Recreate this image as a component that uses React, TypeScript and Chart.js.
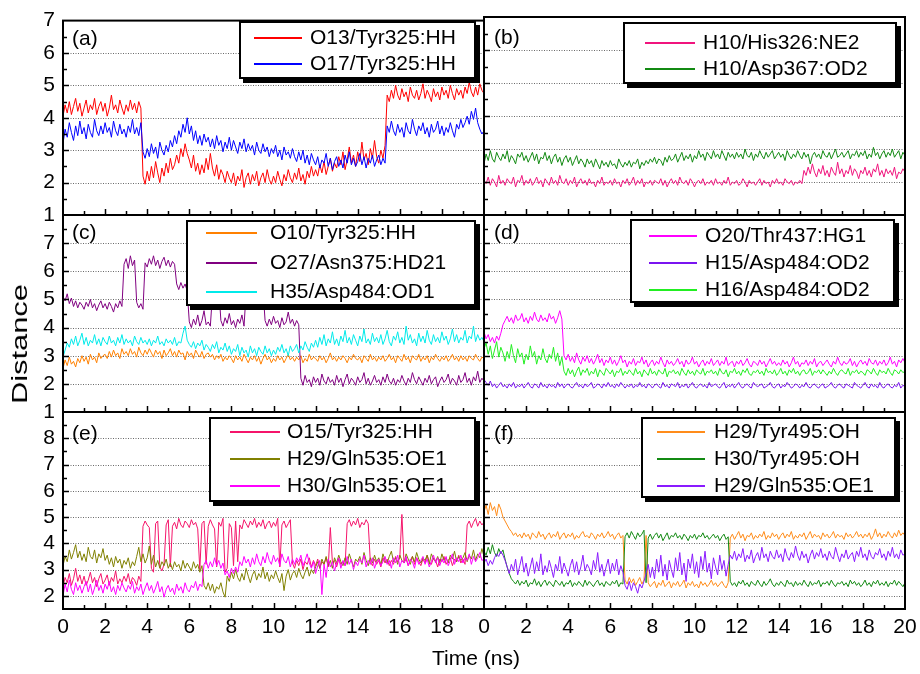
import React, { useEffect, useRef } from "react";
import { Chart, registerables } from "chart.js";

Chart.register(...registerables);

const W = 920;
const H = 674;
const FONT = '"Liberation Sans", Arial, Helvetica, sans-serif';

// time axis: one sample every 0.1 ns from 0 to 20 ns (each row below = 1 ns)
const TIME_STEP_NS = 0.1;
const X_TICKS = [0, 2, 4, 6, 8, 10, 12, 14, 16, 18, 20];

// ---------- (a) ----------
const O13_TYR325_HH = [
  4.05, 4.40, 4.15, 4.50, 4.10, 4.35, 4.60, 4.20, 4.45, 4.05,
  4.30, 4.55, 4.15, 4.40, 4.25, 4.60, 4.10, 4.35, 4.50, 4.20,
  4.45, 4.05, 4.30, 4.70, 4.25, 4.40, 4.15, 4.55, 4.30, 4.10,
  4.40, 4.20, 4.55, 4.25, 4.45, 4.15, 4.50, 4.30, 2.20, 1.95,
  2.35, 2.05, 2.50, 2.15, 2.65, 2.30, 2.00, 2.45, 2.20, 2.60,
  2.30, 2.75, 2.40, 2.55, 2.85, 2.60, 3.05, 2.80, 3.20, 2.90,
  2.70, 2.45, 2.85, 2.35, 2.60, 2.25, 2.55, 2.30, 2.75, 2.40,
  2.90, 2.45, 2.20, 2.55, 2.10, 2.40, 2.25, 2.00, 2.35, 2.15,
  2.00, 2.30, 1.90, 2.20, 2.05, 2.40, 1.85, 2.15, 2.30, 1.95,
  2.25, 2.05, 2.35, 1.90, 2.15, 2.30, 2.00, 2.40, 2.10, 1.95,
  2.20, 2.00, 2.35, 2.10, 1.90, 2.25, 2.05, 2.40, 2.15, 2.00,
  2.30, 2.10, 2.45, 2.05, 2.25, 1.95, 2.35, 2.15, 2.50, 2.20,
  2.40, 2.20, 2.55, 2.30, 2.65, 2.25, 2.50, 2.75, 2.35, 2.60,
  2.45, 2.80, 2.55, 2.95, 2.40, 2.70, 3.10, 2.60, 2.85, 2.50,
  2.95, 2.65, 3.25, 2.70, 2.90, 2.55, 3.05, 2.75, 3.30, 2.80,
  2.60, 3.00, 2.75, 3.15, 4.70, 4.50, 4.85, 4.60, 5.00, 4.70,
  4.55, 4.90, 4.65, 4.80, 4.50, 4.95, 4.70, 4.60, 4.85, 4.55,
  4.75, 5.05, 4.60, 4.85, 4.70, 4.50, 4.90, 4.65, 4.80, 4.55,
  4.95, 4.70, 4.85, 4.60, 5.00, 4.75, 4.55, 4.90, 4.70, 4.85,
  4.60, 4.95, 4.75, 5.10, 4.80, 4.65, 4.95, 4.70, 5.05, 4.85,
  4.75,
];
const O17_TYR325_HH = [
  3.20, 3.65, 3.40, 3.85, 3.55, 3.30, 3.75, 3.45, 3.90, 3.50,
  3.70, 3.35, 3.80, 3.55, 3.40, 3.95, 3.60, 3.45, 3.75, 3.50,
  3.85, 3.55, 3.70, 3.40, 3.90, 3.60, 3.45, 3.80, 3.50, 3.65,
  3.40, 3.75, 3.55, 3.95, 3.50, 3.70, 3.45, 3.85, 2.95, 2.75,
  3.05, 2.80, 3.20, 2.90, 3.10, 2.75, 3.25, 3.00, 2.85, 3.15,
  2.95, 3.30, 3.10, 3.45, 3.20, 3.60, 3.40, 3.80, 3.55, 4.00,
  3.50, 3.75, 3.30, 3.60, 3.20, 3.45, 3.15, 3.50, 3.25, 3.40,
  3.10, 3.35, 3.05, 3.45, 3.15, 3.30, 2.95, 3.25, 3.05, 3.40,
  3.00, 3.30, 3.10, 2.90, 3.25, 3.05, 3.35, 2.95, 3.20, 3.00,
  3.15, 2.85, 3.25, 3.00, 2.90, 3.20, 2.95, 3.10, 2.80, 3.05,
  2.90, 3.15, 2.80, 3.00, 2.70, 3.10, 2.85, 2.95, 2.75, 3.05,
  2.80, 2.65, 2.95, 2.70, 3.00, 2.60, 2.85, 2.55, 2.90, 2.70,
  2.55, 2.80, 2.45, 2.70, 2.60, 2.90, 2.50, 2.75, 2.40, 2.65,
  2.80, 2.50, 2.70, 2.45, 2.85, 2.60, 2.95, 2.55, 2.75, 2.50,
  2.65, 2.90, 2.55, 2.80, 2.45, 2.75, 2.60, 2.85, 2.50, 2.70,
  2.85, 2.55, 2.75, 2.60, 3.75, 3.55, 3.90, 3.60, 3.45, 3.80,
  3.55, 3.70, 3.40, 3.85, 3.60, 3.50, 3.95, 3.65, 3.45, 3.75,
  3.60, 3.85, 3.50, 3.70, 3.40, 3.80, 3.55, 3.65, 3.90, 3.50,
  3.75, 3.45, 3.70, 3.55, 3.85, 3.60, 3.40, 3.80, 3.65, 3.95,
  3.70, 3.85, 4.05, 3.80, 4.20, 3.95, 4.30, 3.85, 3.65, 3.50,
  3.60,
];

// ---------- (b) ----------
const H10_HIS326_NE2 = [
  2.05, 1.95, 2.15, 1.90, 2.10, 2.00, 1.85, 2.20, 1.95, 2.05,
  1.90, 2.10, 2.00, 1.95, 2.15, 1.85, 2.05, 2.00, 2.20, 1.90,
  2.05, 1.95, 2.10, 1.90, 2.00, 2.15, 1.95, 2.05, 1.85, 2.10,
  2.00, 1.90, 2.15, 1.95, 2.05, 1.90, 2.20, 2.00, 1.95, 2.10,
  1.90, 2.05, 1.95, 2.15, 1.85, 2.00, 2.10, 1.95, 2.05, 1.90,
  2.10, 1.95, 2.00, 1.85, 2.05, 1.95, 2.15, 1.90, 2.00, 1.95,
  2.05, 1.90, 2.10, 1.95, 2.00, 1.85, 2.05, 1.95, 2.10, 1.90,
  2.00, 2.15, 1.90, 2.05, 1.95, 2.10, 1.85, 2.00, 1.95, 2.05,
  1.90, 2.05, 2.00, 1.95, 2.10, 1.90, 2.05, 1.85, 2.00, 2.10,
  1.95, 2.05, 1.90, 2.15, 2.00, 1.95, 2.05, 1.90, 2.10, 2.00,
  1.85, 2.00, 2.05, 1.95, 2.10, 1.90, 2.00, 1.95, 2.05, 1.90,
  2.10, 1.95, 2.00, 1.90, 2.05, 1.95, 2.15, 1.90, 2.00, 1.95,
  2.05, 1.90, 1.95, 2.10, 2.00, 1.85, 2.05, 1.95, 2.00, 1.90,
  2.00, 2.10, 1.90, 2.05, 1.95, 2.00, 1.85, 2.05, 1.95, 2.10,
  1.95, 2.00, 1.90, 2.10, 2.00, 1.95, 2.05, 1.90, 2.00, 1.95,
  2.05, 1.95, 2.35, 2.20, 2.45, 2.25, 2.55, 2.30, 2.15, 2.40,
  2.25, 2.50, 2.20, 2.35, 2.15, 2.45, 2.30, 2.20, 2.60, 2.25,
  2.40, 2.15, 2.35, 2.25, 2.50, 2.20, 2.40, 2.30, 2.10, 2.35,
  2.25, 2.45, 2.20, 2.35, 2.15, 2.40, 2.30, 2.55, 2.20, 2.35,
  2.15, 2.40, 2.25, 2.35, 2.20, 2.45, 2.10, 2.30, 2.25, 2.40,
  2.30,
];
const H10_ASP367_OD2 = [
  2.55, 2.85, 2.65, 2.95, 2.70, 2.60, 2.90, 2.75, 2.65, 2.85,
  2.70, 2.95, 2.60, 2.80, 2.70, 2.55, 2.85, 2.75, 2.90, 2.65,
  2.80, 2.60, 2.75, 2.90, 2.65, 2.85, 2.55, 2.75, 2.70, 2.90,
  2.65, 2.80, 2.55, 2.75, 2.85, 2.60, 2.75, 2.50, 2.70, 2.80,
  2.60, 2.75, 2.50, 2.65, 2.80, 2.55, 2.70, 2.60, 2.45, 2.70,
  2.55, 2.65, 2.45, 2.70, 2.55, 2.40, 2.65, 2.50, 2.60, 2.45,
  2.65, 2.50, 2.55, 2.40, 2.70, 2.55, 2.45, 2.60, 2.50, 2.65,
  2.45, 2.60, 2.55, 2.70, 2.40, 2.60, 2.50, 2.65, 2.55, 2.70,
  2.60, 2.75, 2.55, 2.70, 2.65, 2.50, 2.75, 2.60, 2.80, 2.65,
  2.70, 2.85, 2.60, 2.75, 2.90, 2.65, 2.80, 2.70, 2.85, 2.60,
  2.80, 2.70, 2.95, 2.75, 2.85, 2.65, 2.90, 2.80, 2.70, 2.95,
  2.75, 2.85, 2.70, 2.95, 2.80, 2.65, 2.90, 2.75, 2.85, 2.70,
  2.90, 2.75, 2.85, 2.70, 3.00, 2.80, 2.75, 2.90, 2.65, 2.85,
  2.75, 2.95, 2.80, 2.70, 2.90, 2.75, 2.85, 2.95, 2.70, 2.80,
  2.90, 2.75, 2.85, 2.65, 2.95, 2.80, 2.70, 2.85, 2.75, 2.95,
  2.80, 2.70, 2.90, 2.75, 2.85, 2.55, 2.80, 2.90, 2.75, 2.85,
  2.70, 2.95, 2.80, 2.75, 2.90, 2.70, 2.85, 3.00, 2.75, 2.80,
  2.90, 2.75, 2.85, 2.95, 2.70, 2.85, 2.80, 2.95, 2.75, 2.90,
  2.80, 2.95, 2.70, 2.85, 2.75, 3.05, 2.80, 2.90, 2.70, 2.85,
  2.95, 2.75, 2.90, 2.80, 3.00, 2.75, 2.85, 2.95, 2.70, 2.90,
  2.80,
];

// ---------- (c) ----------
const O10_TYR325_HH = [
  2.55, 2.85, 2.65, 2.95, 2.70, 2.80, 2.60, 2.90, 2.75, 3.00,
  2.80, 2.95, 2.70, 3.05, 2.85, 2.95, 2.75, 3.10, 2.90, 3.00,
  3.05, 2.90, 3.15, 2.95, 3.20, 3.00, 3.10, 2.90, 3.25, 3.05,
  3.15, 3.00, 3.25, 3.05, 3.15, 2.95, 3.30, 3.10, 3.00, 3.20,
  3.05, 3.25, 3.10, 2.95, 3.20, 3.05, 3.15, 2.90, 3.20, 3.00,
  3.10, 3.25, 3.00, 3.15, 2.95, 3.20, 3.05, 3.10, 2.85, 3.15,
  3.00, 3.10, 2.90, 3.20, 3.05, 2.95, 3.15, 2.90, 3.05, 3.10,
  2.95, 3.05, 2.85, 3.00, 2.90, 3.05, 2.80, 2.95, 2.85, 3.00,
  2.90, 2.75, 3.00, 2.85, 2.95, 2.80, 3.05, 2.90, 2.75, 2.95,
  2.85, 3.00, 2.80, 2.95, 2.70, 2.90, 3.05, 2.85, 2.95, 2.75,
  2.90, 2.80, 3.00, 2.85, 2.95, 2.75, 2.90, 3.05, 2.85, 2.95,
  2.80, 2.95, 2.85, 3.00, 2.75, 2.90, 2.80, 3.05, 2.85, 2.95,
  2.90, 2.80, 3.00, 2.85, 2.95, 2.75, 2.90, 3.10, 2.85, 2.95,
  2.80, 2.95, 2.85, 3.00, 2.90, 2.75, 2.95, 2.85, 3.05, 2.90,
  2.85, 2.95, 2.75, 3.00, 2.90, 2.80, 3.05, 2.85, 2.95, 2.80,
  2.95, 2.85, 3.00, 2.80, 2.90, 3.05, 2.85, 2.95, 2.75, 3.00,
  2.90, 2.80, 3.05, 2.85, 2.95, 2.75, 3.00, 2.90, 2.85, 3.05,
  2.80, 2.95, 2.85, 3.00, 2.75, 2.95, 2.85, 3.05, 2.90, 2.80,
  2.95, 2.85, 3.00, 2.80, 2.90, 3.05, 2.85, 2.95, 2.80, 3.00,
  2.85, 2.95, 2.80, 3.00, 2.90, 2.85, 3.05, 2.90, 2.80, 2.95,
  2.90,
];
const O27_ASN375_HD21 = [
  5.10, 4.95, 5.20, 4.85, 5.05, 4.75, 4.95, 4.70, 4.90, 4.80,
  4.65, 4.90, 4.75, 5.00, 4.70, 4.85, 4.60, 4.80, 4.95, 4.70,
  4.85, 4.65, 4.90, 4.75, 4.55, 4.85, 4.70, 4.95, 4.75, 6.25,
  6.45, 6.10, 6.55, 6.20, 6.40, 4.90, 4.70, 4.85, 4.65, 6.30,
  6.15, 6.45, 6.25, 6.55, 6.20, 6.40, 6.10, 6.35, 6.50, 6.20,
  6.40, 6.15, 6.35, 6.25, 5.55, 5.35, 5.60, 5.40, 5.55, 5.30,
  4.20, 4.00, 4.30, 4.10, 4.45, 4.05, 4.25, 4.60, 4.10, 4.20,
  4.05, 5.20, 5.35, 5.10, 5.40, 4.25, 4.05, 4.35, 4.15, 4.50,
  4.10, 4.25, 4.00, 4.30, 4.15, 4.45, 4.05, 5.25, 5.40, 5.15,
  5.35, 5.20, 5.45, 5.30, 5.10, 5.35, 4.25, 4.05, 4.30, 4.10,
  4.40, 4.15, 4.25, 4.00, 4.35, 4.10, 4.20, 4.55, 4.15, 4.30,
  4.05, 4.25, 4.10, 2.20, 1.95, 2.30, 2.05, 2.15, 1.90, 2.25,
  2.05, 2.20, 1.95, 2.35, 2.10, 2.00, 2.25, 2.05, 2.15, 1.95,
  2.30, 2.05, 2.20, 1.90, 2.15, 2.35, 2.00, 2.20, 2.10, 1.95,
  2.25, 2.05, 2.15, 2.40, 2.00, 2.20, 1.95, 2.10, 2.30, 2.05,
  2.15, 1.95, 2.25, 2.05, 2.35, 2.10, 2.00, 2.20, 1.95, 2.15,
  2.05, 2.30, 2.10, 1.95, 2.20, 2.05, 2.40, 2.15, 2.00, 2.25,
  2.10, 1.95, 2.20, 2.05, 2.30, 2.00, 2.15, 2.25, 1.90, 2.10,
  2.25, 2.05, 2.15, 2.35, 2.00, 2.20, 2.10, 1.95, 2.30, 2.05,
  2.15, 2.40, 2.05, 2.20, 1.95, 2.25, 2.10, 2.45, 2.05, 2.20,
  2.10,
];
const H35_ASP484_OD1 = [
  2.95, 3.20, 3.45, 3.30, 3.60, 3.40, 3.70, 3.35, 3.55, 3.80,
  3.40, 3.65, 3.35, 3.55, 3.45, 3.75, 3.40, 3.60, 3.35, 3.65,
  3.50, 3.40, 3.70, 3.45, 3.55, 3.35, 3.65, 3.45, 3.75, 3.40,
  3.60, 3.45, 3.55, 3.35, 3.70, 3.50, 3.40, 3.65, 3.45, 3.55,
  3.40, 3.60, 3.35, 3.55, 3.45, 3.70, 3.40, 3.50, 3.35, 3.60,
  3.45, 3.55, 3.40, 3.65, 3.35, 3.50, 3.45, 3.80, 4.05, 3.55,
  3.40, 3.30, 3.50, 3.25, 3.45, 3.35, 3.55, 3.20, 3.40, 3.30,
  3.15, 3.40, 3.25, 3.50, 3.10, 3.30, 3.20, 3.45, 3.15, 3.35,
  3.05, 3.25, 3.15, 3.40, 3.00, 3.30, 3.10, 3.20, 2.95, 3.35,
  3.10, 3.25, 3.00, 3.30, 3.15, 3.05, 3.35, 3.10, 3.25, 3.00,
  3.20, 3.05, 3.30, 3.15, 3.40, 3.10, 3.25, 3.00, 3.35, 3.15,
  3.25, 3.40, 3.10, 3.35, 3.20, 3.50, 3.30, 3.15, 3.45, 3.30,
  3.55, 3.30, 3.65, 3.40, 3.75, 3.35, 3.60, 3.45, 3.85, 3.40,
  3.60, 3.35, 3.70, 3.50, 3.90, 3.45, 3.65, 3.40, 3.75, 3.55,
  3.35, 3.70, 3.50, 3.95, 3.45, 3.60, 3.40, 3.80, 3.50, 3.65,
  3.45, 3.75, 3.40, 3.60, 3.90, 3.50, 3.35, 3.70, 3.55, 3.85,
  3.45, 3.65, 3.40, 4.05, 3.55, 3.75, 3.45, 3.60, 3.35, 3.80,
  3.50, 3.70, 3.45, 3.90, 3.55, 3.40, 3.75, 3.50, 3.65, 3.45,
  3.85, 3.55, 3.70, 3.40, 3.60, 3.95, 3.50, 3.75, 3.45, 3.65,
  3.55, 3.90, 3.45, 3.70, 3.60, 4.05, 3.50, 3.75, 3.55, 3.65,
  3.50,
];

// ---------- (d) ----------
const O20_THR437_HG1 = [
  3.85, 3.60, 3.75, 3.50, 3.65, 3.45, 3.70, 3.55, 3.80, 4.10,
  4.25, 4.40, 4.20, 4.35, 4.15, 4.45, 4.25, 4.30, 4.50, 4.20,
  4.35, 4.15, 4.40, 4.25, 4.55, 4.30, 4.20, 4.45, 4.25, 4.35,
  4.20, 4.50, 4.30, 4.40, 4.15, 4.35, 4.60, 4.30, 3.00, 2.85,
  3.05, 2.80, 2.95, 2.75, 3.10, 2.85, 2.70, 2.95, 2.80, 3.00,
  2.75, 2.90, 2.70, 2.85, 3.05, 2.75, 2.90, 2.65, 2.85, 2.75,
  2.95, 2.70, 2.85, 2.65, 2.80, 3.00, 2.75, 2.85, 2.60, 2.80,
  2.70, 2.90, 2.65, 2.80, 2.75, 2.95, 2.70, 2.85, 2.60, 2.75,
  2.85, 2.65, 2.80, 2.70, 2.95, 2.75, 2.60, 2.85, 2.70, 2.80,
  2.65, 2.75, 2.90, 2.70, 2.80, 2.60, 2.85, 2.70, 2.75, 2.95,
  2.70, 2.80, 2.60, 2.75, 2.85, 2.65, 2.80, 2.70, 2.90, 2.65,
  2.75, 2.85, 2.65, 2.80, 2.70, 2.95, 2.65, 2.75, 2.80, 2.60,
  2.80, 2.70, 2.85, 2.65, 2.75, 2.90, 2.70, 2.60, 2.80, 2.75,
  2.65, 2.85, 2.70, 2.80, 2.60, 2.75, 2.90, 2.70, 2.80, 2.65,
  2.75, 2.65, 2.85, 2.70, 2.80, 2.60, 2.75, 2.95, 2.70, 2.80,
  2.60, 2.75, 2.70, 2.85, 2.65, 2.80, 2.70, 2.90, 2.60, 2.75,
  2.80, 2.65, 2.75, 2.85, 2.70, 2.60, 2.80, 2.70, 2.95, 2.75,
  2.65, 2.80, 2.70, 2.75, 2.90, 2.65, 2.80, 2.60, 2.75, 2.85,
  2.70, 2.80, 2.65, 2.90, 2.75, 2.70, 2.85, 2.65, 2.80, 2.70,
  2.85, 2.65, 2.75, 2.95, 2.70, 2.80, 2.60, 2.85, 2.75, 2.90,
  2.75,
];
const H15_ASP484_OD2 = [
  2.15, 2.05, 1.95, 2.10, 1.90, 2.00, 1.85, 1.95, 2.05, 1.90,
  1.95, 1.85, 2.00, 1.90, 2.05, 1.85, 1.95, 1.90, 2.00, 1.85,
  1.95, 2.05, 1.90, 1.85, 2.00, 1.95, 1.85, 2.05, 1.90, 1.95,
  1.85, 2.00, 1.90, 1.95, 1.85, 2.05, 1.90, 2.00, 1.85, 1.95,
  2.00, 1.90, 1.85, 1.95, 2.05, 1.90, 1.95, 1.85, 2.00, 1.90,
  1.95, 2.05, 1.85, 1.90, 2.00, 1.95, 1.85, 2.00, 1.90, 2.05,
  1.90, 1.95, 1.85, 2.00, 1.90, 2.05, 1.95, 1.85, 1.95, 1.90,
  2.00, 1.85, 1.95, 1.90, 2.05, 1.90, 1.95, 1.85, 2.00, 1.95,
  1.85, 1.95, 2.00, 1.90, 1.85, 2.05, 1.90, 1.95, 1.85, 2.00,
  1.95, 1.90, 2.05, 1.85, 1.95, 1.90, 2.00, 1.85, 1.95, 2.05,
  1.90, 1.85, 1.95, 2.00, 1.90, 1.95, 1.85, 2.05, 1.90, 1.95,
  2.00, 1.90, 1.85, 1.95, 2.05, 1.85, 1.95, 1.90, 2.00, 1.85,
  1.95, 2.05, 1.90, 1.85, 1.95, 2.00, 1.90, 1.85, 2.05, 1.95,
  1.90, 1.95, 2.00, 1.85, 1.90, 1.95, 2.05, 1.90, 1.85, 1.95,
  2.00, 1.85, 1.95, 1.90, 2.05, 1.95, 1.85, 1.90, 2.00, 1.95,
  1.85, 1.95, 1.90, 2.05, 1.90, 1.85, 1.95, 2.00, 1.90, 1.85,
  1.95, 2.00, 1.85, 1.90, 1.95, 2.05, 1.90, 1.85, 1.95, 2.00,
  1.90, 1.85, 2.00, 1.95, 1.90, 1.85, 2.05, 1.95, 1.90, 1.85,
  1.95, 2.05, 1.90, 1.85, 2.00, 1.90, 1.95, 1.85, 2.05, 1.90,
  1.85, 1.95, 2.00, 1.90, 1.85, 1.95, 1.90, 2.05, 1.85, 1.95,
  1.90,
];
const H16_ASP484_OD2 = [
  3.25, 3.45, 3.05, 3.35, 2.90, 3.20, 3.50, 2.95, 3.30, 3.10,
  2.80, 3.15, 2.90, 3.40, 3.00, 2.75, 3.25, 2.95, 3.10, 2.70,
  3.05, 2.85, 3.35, 2.95, 3.15, 2.70, 3.00, 2.85, 3.25, 2.90,
  2.75, 3.05, 2.90, 3.30, 2.80, 3.10, 2.65, 2.95, 2.45, 2.30,
  2.55, 2.35, 2.50, 2.25, 2.45, 2.60, 2.30, 2.50, 2.40, 2.55,
  2.30, 2.45, 2.35, 2.55, 2.25, 2.50, 2.40, 2.30, 2.55, 2.45,
  2.35, 2.50, 2.25, 2.45, 2.40, 2.55, 2.30, 2.45, 2.35, 2.50,
  2.40, 2.30, 2.55, 2.35, 2.45, 2.25, 2.50, 2.40, 2.30, 2.55,
  2.35, 2.45, 2.30, 2.50, 2.40, 2.35, 2.55, 2.25, 2.45, 2.40,
  2.50, 2.35, 2.45, 2.30, 2.55, 2.40, 2.30, 2.50, 2.35, 2.45,
  2.30, 2.50, 2.40, 2.35, 2.55, 2.30, 2.45, 2.40, 2.50, 2.35,
  2.45, 2.30, 2.55, 2.40, 2.35, 2.50, 2.25, 2.45, 2.40, 2.55,
  2.35, 2.45, 2.30, 2.50, 2.40, 2.55, 2.35, 2.30, 2.45, 2.40,
  2.50, 2.35, 2.45, 2.30, 2.55, 2.40, 2.45, 2.35, 2.50, 2.30,
  2.40, 2.55, 2.35, 2.45, 2.30, 2.50, 2.40, 2.55, 2.35, 2.45,
  2.30, 2.45, 2.50, 2.35, 2.40, 2.55, 2.30, 2.45, 2.40, 2.50,
  2.35, 2.50, 2.40, 2.30, 2.45, 2.35, 2.55, 2.40, 2.30, 2.45,
  2.50, 2.40, 2.35, 2.55, 2.30, 2.45, 2.40, 2.50, 2.35, 2.45,
  2.40, 2.30, 2.50, 2.45, 2.35, 2.55, 2.40, 2.30, 2.50, 2.40,
  2.45, 2.35, 2.55, 2.40, 2.30, 2.50, 2.45, 2.35, 2.50, 2.40,
  2.45,
];

// ---------- (e) ----------
const O15_TYR325_HH = [
  2.35, 2.70, 2.50, 2.85, 2.40, 2.65, 3.05, 2.55, 2.80, 2.45,
  2.75, 2.40, 2.60, 2.90, 2.50, 2.70, 2.35, 2.65, 2.85, 2.45,
  2.60, 2.80, 2.40, 2.70, 2.55, 2.95, 2.45, 2.65, 2.50, 2.75,
  2.55, 2.85, 2.45, 2.70, 2.60, 2.40, 2.75, 2.55, 4.65, 4.85,
  4.70, 4.60, 3.05, 2.90, 4.75, 4.85, 3.10, 2.95, 3.20, 4.70,
  4.90, 3.10, 4.65, 4.80, 4.55, 4.95, 4.70, 4.60, 4.85, 4.75,
  4.60, 4.90, 4.70, 4.80, 4.55, 3.00, 4.75, 4.85, 3.20, 4.65,
  4.90, 4.70, 4.55, 3.10, 4.80, 4.65, 4.95, 2.90, 3.05, 4.75,
  4.60, 3.15, 4.85, 3.30, 4.70, 4.55, 4.90, 4.75, 4.60, 4.85,
  4.70, 4.95, 4.60, 4.80, 4.65, 4.90, 4.55, 4.75, 4.85, 4.60,
  4.80, 4.65, 4.95, 3.10, 4.70, 4.85, 4.60, 4.75, 4.90, 3.25,
  3.05, 3.35, 3.15, 3.40, 3.00, 3.30, 3.20, 3.45, 3.10, 3.35,
  3.15, 3.40, 3.05, 3.30, 3.20, 3.45, 3.10, 4.60, 3.25, 3.35,
  3.10, 3.40, 3.20, 3.30, 3.15, 4.75, 4.90, 4.65, 4.85, 4.70,
  4.95, 4.60, 4.80, 4.70, 4.90, 4.75, 3.30, 3.15, 3.40, 3.20,
  3.35, 3.10, 3.45, 3.25, 3.40, 3.15, 3.35, 3.20, 3.50, 3.30,
  3.45, 5.10, 3.25, 3.40, 3.15, 3.35, 3.50, 3.20, 3.45, 3.30,
  3.15, 3.40, 3.25, 3.55, 3.30, 3.20, 3.45, 3.35, 3.10, 3.40,
  3.30, 3.50, 3.20, 3.35, 3.45, 3.15, 3.40, 3.30, 3.55, 3.25,
  3.40, 3.20, 4.70, 4.85, 4.60, 4.80, 4.95, 4.65, 4.85, 4.70,
  4.80,
];
const H29_GLN535_OE1_E = [
  3.15, 3.50, 3.30, 3.75, 3.40, 3.65, 3.95, 3.45, 3.70, 3.35,
  3.60, 3.30, 3.85, 3.50, 3.40, 3.75, 3.25, 3.60, 3.45, 3.80,
  3.35, 3.55, 3.20, 3.45, 3.10, 3.50, 3.25, 3.40, 3.05, 3.35,
  3.20, 3.45, 3.05, 3.30, 3.15, 3.50, 3.85, 3.30, 3.60, 3.25,
  3.45, 3.90, 3.20, 3.55, 3.10, 3.35, 3.05, 3.30, 3.15, 3.40,
  3.05, 3.25, 3.00, 3.30, 3.10, 3.20, 2.95, 3.35, 3.05, 3.25,
  3.10, 2.95, 3.30, 3.05, 3.20, 2.90, 3.15, 2.40, 2.25, 2.50,
  2.20, 2.45, 2.10, 2.35, 2.25, 2.50, 2.15, 1.95, 2.75, 2.55,
  2.90, 2.65, 3.00, 2.70, 2.55, 2.85, 2.60, 3.05, 2.75, 2.50,
  2.80, 2.95, 2.60, 2.85, 2.70, 3.10, 2.65, 2.90, 2.55, 2.80,
  2.65, 2.95, 2.70, 2.50, 2.85, 2.20, 2.75, 3.00, 2.60, 2.85,
  2.95, 2.70, 3.05, 2.80, 2.65, 2.90, 3.10, 2.75, 3.00, 2.85,
  3.10, 3.30, 3.05, 3.40, 3.20, 3.50, 3.15, 3.35, 3.05, 3.45,
  3.25, 3.55, 3.30, 3.15, 3.45, 3.20, 3.60, 3.35, 3.10, 3.40,
  3.30, 3.50, 3.20, 3.65, 3.35, 3.15, 3.45, 3.25, 3.55, 3.30,
  3.45, 3.20, 3.60, 3.35, 3.25, 3.50, 3.70, 3.30, 3.45, 3.20,
  3.55, 3.35, 3.25, 3.60, 3.40, 3.20, 3.50, 3.30, 3.65, 3.40,
  3.25, 3.45, 3.35, 3.55, 3.20, 3.60, 3.40, 3.30, 3.50, 3.25,
  3.60, 3.35, 3.45, 3.25, 3.55, 3.40, 3.70, 3.30, 3.50, 3.35,
  3.45, 3.65, 3.30, 3.55, 3.40, 3.75, 3.35, 3.60, 3.45, 3.80,
  3.50,
];
const H30_GLN535_OE1 = [
  2.00, 2.45, 2.15, 2.60, 2.25, 2.05, 2.50, 2.20, 2.40, 2.10,
  2.35, 2.55, 2.15, 2.45, 2.05, 2.30, 2.60, 2.20, 2.40, 2.10,
  2.45, 2.25, 2.55, 2.15, 2.35, 2.05, 2.40, 2.20, 2.50, 2.30,
  2.15, 2.40, 2.25, 2.55, 2.10, 2.35, 2.20, 2.45, 2.05, 2.30,
  2.50, 2.20, 2.40, 2.10, 2.30, 2.55, 2.15, 2.35, 1.95, 2.25,
  2.40, 2.15, 2.30, 2.05, 2.45, 2.20, 2.35, 2.10, 2.50, 2.25,
  2.15, 2.40, 2.30, 2.55, 2.20, 2.45, 2.35, 3.20, 3.35, 3.05,
  3.30, 3.10, 3.45, 3.15, 3.35, 3.05, 3.25, 2.80, 2.95, 2.70,
  3.05, 2.85, 3.10, 2.90, 3.30, 3.15, 3.50, 3.25, 3.40, 3.10,
  3.45, 3.20, 3.60, 3.30, 3.15, 3.50, 3.25, 3.65, 3.35, 3.20,
  3.55, 3.30, 3.45, 3.15, 3.60, 3.35, 3.25, 3.50, 3.10, 3.40,
  3.20, 3.45, 3.30, 3.55, 3.15, 3.35, 3.60, 3.25, 3.05, 3.30,
  2.85, 3.15, 3.35, 2.05, 3.20, 2.70, 3.40, 3.10, 3.30, 2.95,
  3.25, 3.45, 3.05, 3.35, 3.15, 3.50, 3.20, 3.40, 3.00, 3.30,
  3.15, 3.40, 3.25, 3.55, 3.10, 3.35, 3.20, 3.45, 3.05, 3.30,
  3.40, 3.15, 3.30, 3.50, 3.20, 3.35, 3.05, 3.45, 3.25, 3.55,
  3.10, 3.35, 3.25, 3.50, 3.15, 3.40, 3.30, 3.05, 3.45, 3.20,
  3.35, 3.50, 3.20, 3.40, 3.10, 3.30, 3.55, 3.25, 3.45, 3.15,
  3.40, 3.25, 3.50, 3.15, 3.35, 3.60, 3.20, 3.45, 3.30, 3.55,
  3.25, 3.45, 3.35, 3.60, 3.20, 3.50, 3.30, 3.45, 3.65, 3.35,
  3.40,
];

// ---------- (f) ----------
const H29_TYR495_OH = [
  5.20, 5.45, 5.10, 5.55, 5.25, 5.40, 5.05, 5.50, 5.30, 5.00,
  4.85, 4.70, 4.55, 4.45, 4.30, 4.40, 4.25, 4.35, 4.20, 4.40,
  4.25, 4.35, 4.15, 4.40, 4.30, 4.20, 4.45, 4.25, 4.35, 4.15,
  4.30, 4.40, 4.20, 4.35, 4.25, 4.45, 4.15, 4.30, 4.40, 4.20,
  4.35, 4.25, 4.40, 4.15, 4.30, 4.20, 4.35, 4.45, 4.25, 4.30,
  4.20, 4.40, 4.30, 4.15, 4.35, 4.25, 4.40, 4.20, 4.30, 4.45,
  4.25, 4.35, 4.15, 4.30, 4.40, 4.20, 4.30, 2.60, 2.45, 2.70,
  2.50, 2.65, 2.40, 2.55, 2.70, 2.45, 2.60, 4.30, 2.50, 2.35,
  2.45, 2.55, 2.30, 2.50, 2.40, 2.60, 2.35, 2.45, 2.55, 2.30,
  2.50, 2.40, 2.55, 2.35, 2.45, 2.60, 2.30, 2.50, 2.40, 2.55,
  2.35, 2.45, 2.30, 2.55, 2.40, 2.50, 2.35, 2.45, 2.60, 2.40,
  2.50, 2.35, 2.45, 2.55, 2.40, 2.30, 2.50, 4.20, 4.35, 4.15,
  4.30, 4.45, 4.20, 4.35, 4.10, 4.30, 4.25, 4.40, 4.15, 4.30,
  4.20, 4.35, 4.25, 4.45, 4.15, 4.30, 4.20, 4.40, 4.25, 4.35,
  4.15, 4.30, 4.40, 4.20, 4.35, 4.25, 4.45, 4.15, 4.30, 4.20,
  4.35, 4.25, 4.40, 4.15, 4.30, 4.45, 4.20, 4.35, 4.25, 4.30,
  4.15, 4.40, 4.25, 4.35, 4.20, 4.30, 4.45, 4.20, 4.35, 4.25,
  4.30, 4.15, 4.40, 4.25, 4.35, 4.20, 4.30, 4.45, 4.25, 4.35,
  4.20, 4.35, 4.25, 4.40, 4.15, 4.30, 4.55, 4.25, 4.40, 4.20,
  4.35, 4.25, 4.45, 4.30, 4.20, 4.40, 4.25, 4.50, 4.30, 4.40,
  4.30,
];
const H30_TYR495_OH = [
  3.70, 3.55, 3.85, 3.60, 3.95, 3.65, 3.50, 3.80, 3.60, 3.75,
  3.40, 3.10, 2.85, 2.65, 2.55, 2.45, 2.60, 2.40, 2.55, 2.45,
  2.60, 2.35, 2.50, 2.45, 2.65, 2.40, 2.55, 2.35, 2.50, 2.60,
  2.40, 2.55, 2.45, 2.35, 2.60, 2.50, 2.40, 2.55, 2.35, 2.50,
  2.45, 2.60, 2.35, 2.50, 2.40, 2.55, 2.45, 2.35, 2.60, 2.40,
  2.55, 2.45, 2.35, 2.50, 2.60, 2.40, 2.50, 2.35, 2.55, 2.45,
  2.40, 2.55, 2.45, 2.60, 2.35, 2.50, 2.45, 4.25, 4.40, 4.20,
  4.45, 4.30, 4.15, 4.40, 4.25, 4.35, 4.50, 2.50, 4.20, 4.35,
  4.15, 4.30, 4.40, 4.20, 4.35, 4.10, 4.25, 4.40, 4.15, 4.30,
  4.25, 4.40, 4.20, 4.30, 4.15, 4.35, 4.25, 4.10, 4.30, 4.20,
  4.35, 4.15, 4.30, 4.25, 4.40, 4.20, 4.30, 4.15, 4.25, 4.35,
  4.20, 4.30, 4.10, 4.25, 4.35, 4.15, 4.25, 2.55, 2.40, 2.50,
  2.35, 2.55, 2.45, 2.60, 2.40, 2.50, 2.35, 2.55, 2.45, 2.40,
  2.60, 2.45, 2.35, 2.55, 2.40, 2.50, 2.65, 2.45, 2.35, 2.50,
  2.40, 2.55, 2.45, 2.35, 2.60, 2.45, 2.50, 2.35, 2.55, 2.40,
  2.50, 2.40, 2.60, 2.45, 2.35, 2.55, 2.40, 2.50, 2.45, 2.60,
  2.35, 2.50, 2.45, 2.55, 2.40, 2.60, 2.45, 2.35, 2.50, 2.45,
  2.55, 2.40, 2.50, 2.35, 2.60, 2.45, 2.55, 2.40, 2.50, 2.35,
  2.45, 2.60, 2.40, 2.50, 2.35, 2.55, 2.45, 2.60, 2.40, 2.50,
  2.40, 2.55, 2.35, 2.50, 2.45, 2.60, 2.40, 2.55, 2.45, 2.35,
  2.50,
];
const H29_GLN535_OE1_F = [
  3.25, 3.40, 3.15, 3.35, 3.20, 3.45, 3.60, 3.50, 3.70, 3.55,
  3.35, 3.10, 2.85, 3.20, 2.95, 3.40, 2.80, 3.15, 3.50, 2.90,
  3.25, 2.75, 3.10, 3.45, 2.85, 3.30, 2.95, 3.60, 2.80, 3.15,
  2.90, 3.35, 3.05, 2.70, 3.20, 2.95, 3.50, 2.85, 3.25, 3.00,
  2.75, 3.15, 3.40, 2.90, 3.30, 2.80, 3.10, 3.55, 2.95, 3.20,
  3.05, 2.80, 3.35, 3.00, 3.65, 2.90, 3.20, 2.75, 3.10, 3.40,
  2.85, 3.25, 2.95, 3.40, 2.80, 3.15, 2.90, 2.40, 2.25, 2.55,
  2.20, 2.50, 2.35, 2.10, 2.45, 2.30, 2.55, 2.85, 3.20, 2.70,
  3.10, 2.65, 3.40, 2.90, 3.55, 2.75, 3.20, 2.60, 3.35, 3.00,
  2.70, 3.45, 2.95, 3.65, 2.80, 3.25, 2.55, 3.40, 3.05, 3.60,
  2.85, 3.30, 2.70, 3.50, 3.00, 3.70, 2.90, 3.25, 2.65, 3.45,
  3.10, 2.80, 3.55, 3.00, 3.35, 2.75, 3.20, 3.55, 3.40, 3.70,
  3.35, 3.60, 3.45, 3.80, 3.30, 3.55, 3.40, 3.75, 3.25, 3.50,
  3.65, 3.35, 3.85, 3.45, 3.60, 3.30, 3.70, 3.50, 3.40, 3.75,
  3.45, 3.60, 3.30, 3.80, 3.50, 3.35, 3.65, 3.45, 3.90, 3.55,
  3.35, 3.70, 3.45, 3.60, 3.25, 3.55, 3.75, 3.40, 3.65, 3.50,
  3.80, 3.45, 3.60, 3.35, 3.70, 3.50, 3.40, 3.85, 3.55, 3.30,
  3.60, 3.45, 3.75, 3.40, 3.55, 3.65, 3.30, 3.70, 3.50, 3.85,
  3.45, 3.60, 3.35, 3.75, 3.50, 3.40, 3.65, 3.55, 3.80, 3.45,
  3.60, 3.35, 3.70, 3.50, 3.85, 3.45, 3.60, 3.40, 3.75, 3.55,
  3.60,
];

type Series = { label: string; values: number[]; color: string };
type LegendBox = {
  left: number; top: number; width: number; height: number;
  rows: number[]; swatchLeft: number; swatchWidth: number; textLeft: number;
};
type PanelDef = {
  key: string; tag: string; tagX: number; tagY: number;
  x: number; y: number; w: number; h: number;
  yMin: number; yMax: number; yHide: number[];
  showX: boolean; showY: boolean; hideX: number[];
  series: Series[]; legend: LegendBox;
};

const Y_AXIS_W = 60;
const X_LABEL_OFFSET = 18;

const PANELS: PanelDef[] = [
  {
    key: "a", tag: "(a)", tagX: 72, tagY: 37,
    x: 63, y: 17, w: 421, h: 198, yMin: 1, yMax: 7, yHide: [],
    showX: false, showY: true, hideX: [],
    series: [
      { label: "O13/Tyr325:HH", values: O13_TYR325_HH, color: "#ff0000" },
      { label: "O17/Tyr325:HH", values: O17_TYR325_HH, color: "#0000ff" },
    ],
    legend: { left: 239, top: 21, width: 237, height: 58, rows: [16, 42], swatchLeft: 13, swatchWidth: 48, textLeft: 69 },
  },
  {
    key: "b", tag: "(b)", tagX: 494, tagY: 36,
    x: 484, y: 17, w: 421, h: 198, yMin: 1, yMax: 7, yHide: [],
    showX: false, showY: false, hideX: [],
    series: [
      { label: "H10/His326:NE2", values: H10_HIS326_NE2, color: "#f0147d" },
      { label: "H10/Asp367:OD2", values: H10_ASP367_OD2, color: "#138a13" },
    ],
    legend: { left: 623, top: 22, width: 274, height: 62, rows: [20, 46], swatchLeft: 20, swatchWidth: 50, textLeft: 78 },
  },
  {
    key: "c", tag: "(c)", tagX: 72, tagY: 231,
    x: 63, y: 215, w: 421, h: 197, yMin: 1, yMax: 8, yHide: [8],
    showX: false, showY: true, hideX: [],
    series: [
      { label: "O10/Tyr325:HH", values: O10_TYR325_HH, color: "#ff8000" },
      { label: "O27/Asn375:HD21", values: O27_ASN375_HD21, color: "#800080" },
      { label: "H35/Asp484:OD1", values: H35_ASP484_OD1, color: "#00eaea" },
    ],
    legend: { left: 186, top: 220, width: 290, height: 86, rows: [12, 42, 71], swatchLeft: 18, swatchWidth: 51, textLeft: 82 },
  },
  {
    key: "d", tag: "(d)", tagX: 494, tagY: 231,
    x: 484, y: 215, w: 421, h: 197, yMin: 1, yMax: 8, yHide: [8],
    showX: false, showY: false, hideX: [],
    series: [
      { label: "O20/Thr437:HG1", values: O20_THR437_HG1, color: "#ff00ff" },
      { label: "H15/Asp484:OD2", values: H15_ASP484_OD2, color: "#7a14f0" },
      { label: "H16/Asp484:OD2", values: H16_ASP484_OD2, color: "#22ee22" },
    ],
    legend: { left: 630, top: 219, width: 265, height: 84, rows: [16, 43, 70], swatchLeft: 17, swatchWidth: 48, textLeft: 73 },
  },
  {
    key: "e", tag: "(e)", tagX: 72, tagY: 432,
    x: 63, y: 412, w: 421, h: 197, yMin: 1.5, yMax: 9, yHide: [9],
    showX: true, showY: true, hideX: [20],
    series: [
      { label: "O15/Tyr325:HH", values: O15_TYR325_HH, color: "#f5146a" },
      { label: "H29/Gln535:OE1", values: H29_GLN535_OE1_E, color: "#808000" },
      { label: "H30/Gln535:OE1", values: H30_GLN535_OE1, color: "#ff00ff" },
    ],
    legend: { left: 209, top: 417, width: 267, height: 85, rows: [14, 41, 68], swatchLeft: 19, swatchWidth: 50, textLeft: 76 },
  },
  {
    key: "f", tag: "(f)", tagX: 494, tagY: 432,
    x: 484, y: 412, w: 421, h: 197, yMin: 1.5, yMax: 9, yHide: [9],
    showX: true, showY: false, hideX: [],
    series: [
      { label: "H29/Tyr495:OH", values: H29_TYR495_OH, color: "#ff8c1a" },
      { label: "H30/Tyr495:OH", values: H30_TYR495_OH, color: "#138a13" },
      { label: "H29/Gln535:OE1", values: H29_GLN535_OE1_F, color: "#8a1aff" },
    ],
    legend: { left: 641, top: 417, width: 255, height: 81, rows: [14, 41, 68], swatchLeft: 14, swatchWidth: 48, textLeft: 71 },
  },
];

function decorPlugin(p: PanelDef) {
  return {
    id: "decor_" + p.key,
    beforeDatasetsDraw(chart: any) {
      const { ctx, chartArea: a } = chart;
      const ys = chart.scales.y;
      ctx.save();
      ctx.strokeStyle = "#6a6a6a";
      ctx.lineWidth = 1;
      ctx.setLineDash([1, 1.5]);
      for (let v = Math.floor(p.yMin) + 1; v < p.yMax; v++) {
        const py = Math.round(ys.getPixelForValue(v)) + 0.5;
        ctx.beginPath();
        ctx.moveTo(a.left, py);
        ctx.lineTo(a.right, py);
        ctx.stroke();
      }
      ctx.restore();
    },
    afterDatasetsDraw(chart: any) {
      const { ctx, chartArea: a } = chart;
      const xs = chart.scales.x;
      const ys = chart.scales.y;
      ctx.save();
      ctx.strokeStyle = "#000";
      ctx.lineWidth = 1.5;
      ctx.setLineDash([]);
      for (let v = p.yMin + 0.5; v < p.yMax; v += 0.5) {
        const py = Math.round(ys.getPixelForValue(v)) + 0.5;
        const len = Number.isInteger(v) ? 6 : 4;
        ctx.beginPath();
        ctx.moveTo(a.left, py);
        ctx.lineTo(a.left + len, py);
        ctx.stroke();
      }
      for (let t = 1; t < 20; t++) {
        const px = Math.round(xs.getPixelForValue(t)) + 0.5;
        const len = t % 2 === 0 ? 6 : 4;
        ctx.beginPath();
        ctx.moveTo(px, a.bottom);
        ctx.lineTo(px, a.bottom - len);
        ctx.stroke();
      }
      ctx.lineWidth = 2;
      ctx.strokeRect(a.left, a.top, a.right - a.left, a.bottom - a.top);
      if (p.showX) {
        ctx.fillStyle = "#000";
        ctx.font = "21px " + FONT;
        ctx.textAlign = "center";
        ctx.textBaseline = "middle";
        for (const v of X_TICKS) {
          if (p.hideX.includes(v)) continue;
          ctx.fillText(String(v), xs.getPixelForValue(v), a.bottom + X_LABEL_OFFSET);
        }
      }
      ctx.restore();
    },
  };
}

function PanelChart({ panel }: { panel: PanelDef }) {
  const ref = useRef<HTMLCanvasElement | null>(null);
  useEffect(() => {
    const canvas = ref.current;
    if (!canvas) return;
    const p = panel;
    const tickFont = { family: FONT, size: 21 };
    const padLeft = p.showY ? p.x - Y_AXIS_W : p.x;
    const padBottom = H - p.y - p.h;
    const chart = new Chart(canvas, {
      type: "line",
      data: {
        datasets: p.series.map((s, i) => ({
          label: s.label,
          data: s.values.map((v, k) => ({ x: k * TIME_STEP_NS, y: v })),
          borderColor: s.color,
          backgroundColor: s.color,
          borderWidth: 1,
          pointRadius: 0,
          tension: 0,
          fill: false,
          order: -i,
        })),
      },
      options: {
        animation: false,
        responsive: false,
        events: [],
        layout: {
          padding: { left: padLeft, top: p.y, right: W - p.x - p.w, bottom: padBottom },
        },
        plugins: { legend: { display: false }, tooltip: { enabled: false }, title: { display: false } },
        scales: {
          x: {
            type: "linear",
            min: 0,
            max: 20,
            display: false,
          },
          y: {
            type: "linear",
            min: p.yMin,
            max: p.yMax,
            display: p.showY,
            afterFit: (s: any) => { s.width = p.showY ? Y_AXIS_W : 0; },
            grid: { display: false, drawTicks: false },
            border: { display: false },
            ticks: {
              stepSize: 1,
              includeBounds: false,
              autoSkip: false,
              color: "#000",
              font: tickFont,
              padding: 8,
              callback: (v: any) => (p.yHide.includes(Number(v)) ? "" : String(v)),
            },
          },
        },
      } as any,
      plugins: [decorPlugin(p)],
    });
    return () => chart.destroy();
  }, [panel]);
  return (
    <canvas
      ref={ref}
      width={W}
      height={H}
      style={{ position: "absolute", left: 0, top: 0, width: W, height: H }}
    />
  );
}

function Legend({ panel }: { panel: PanelDef }) {
  const L = panel.legend;
  return (
    <div
      style={{
        position: "absolute",
        left: L.left,
        top: L.top,
        width: L.width,
        height: L.height,
        boxSizing: "border-box",
        border: "2px solid #000",
        background: "#fff",
        boxShadow: "4px 4px 0 #000",
      }}
    >
      {panel.series.map((s, i) => (
        <div key={i} style={{ position: "absolute", left: 0, top: L.rows[i] - 15, height: 26, width: "100%" }}>
          <div
            style={{
              position: "absolute",
              left: L.swatchLeft,
              top: 13,
              width: L.swatchWidth,
              height: 2,
              background: s.color,
            }}
          />
          <div
            style={{
              position: "absolute",
              left: L.textLeft,
              top: 0,
              lineHeight: "26px",
              fontSize: 21,
              fontFamily: FONT,
              color: "#000",
              whiteSpace: "nowrap",
            }}
          >
            {s.label}
          </div>
        </div>
      ))}
    </div>
  );
}

export default function App() {
  return (
    <div style={{ position: "absolute", left: 0, top: 0, width: W, height: H, background: "#fff", overflow: "hidden" }}>
      {PANELS.map((p) => (
        <PanelChart key={p.key} panel={p} />
      ))}
      {PANELS.map((p) => (
        <Legend key={"l" + p.key} panel={p} />
      ))}
      {PANELS.map((p) => (
        <div
          key={"t" + p.key}
          style={{
            position: "absolute",
            left: p.tagX,
            top: p.tagY,
            transform: "translateY(-50%)",
            fontFamily: FONT,
            fontSize: 21,
            color: "#000",
            lineHeight: 1,
          }}
        >
          {p.tag}
        </div>
      ))}
      <div
        style={{
          position: "absolute",
          left: 20,
          top: 344,
          transform: "translate(-50%, -50%) rotate(-90deg) scaleX(1.4)",
          fontFamily: FONT,
          fontSize: 22,
          color: "#000",
          whiteSpace: "nowrap",
          lineHeight: 1,
        }}
      >
        Distance
      </div>
      <div
        style={{
          position: "absolute",
          left: 476,
          top: 657,
          transform: "translate(-50%, -50%)",
          fontFamily: FONT,
          fontSize: 21,
          color: "#000",
          whiteSpace: "nowrap",
          lineHeight: 1,
        }}
      >
        Time (ns)
      </div>
    </div>
  );
}
